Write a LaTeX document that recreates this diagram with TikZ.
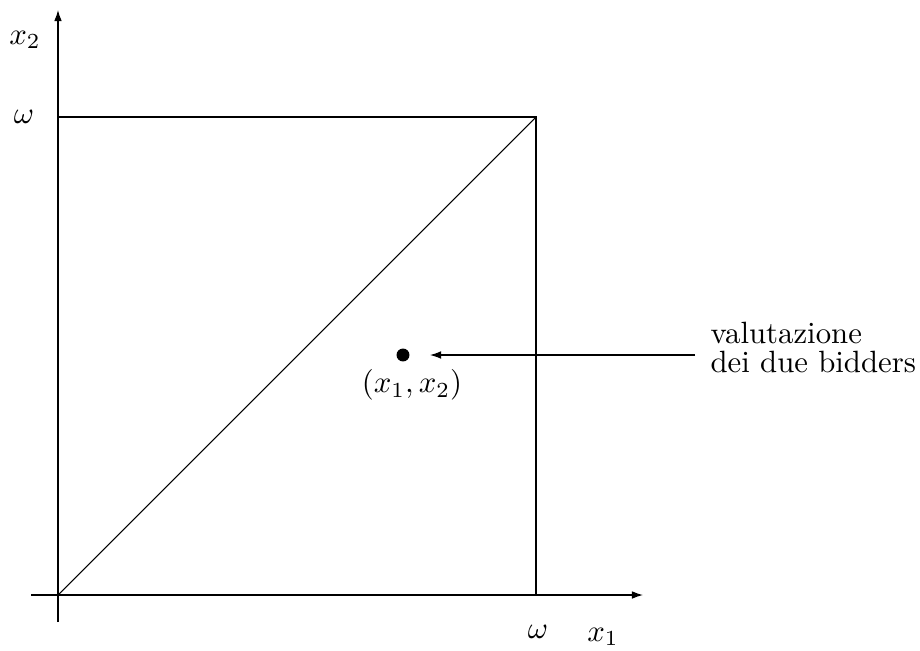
\documentclass[tikz,border=0pt]{standalone}
\usetikzlibrary{arrows.meta}
\begin{document}
\begin{tikzpicture}[x=0.325pt,y=-0.325pt,
  ln/.style={line width=0.35pt},
  tipstyle/.style={-{Latex[length=3.6pt,width=2.5pt]}},
  ax/.style={line width=0.4pt,tipstyle},
  lbl/.style={inner sep=0pt}]
\useasboundingbox (0,0) rectangle (920,650);
% axes
\coordinate (xs) at (31,595);
\coordinate (xe) at (643,595);
\coordinate (ys) at (58,622);
\coordinate (ye) at (58,10);
\draw[ax] (xs) -- (xe);
\draw[ax] (ys) -- (ye);
% square
\coordinate (O) at (58,595);
\coordinate (A) at (536,595);
\coordinate (B) at (536,117);
\coordinate (C) at (58,117);
\draw[ln] (C) -- (B) -- (A);
\draw[ln] (O) -- (B);
% labels
\node[lbl] (x2) at (25,40) {$x_2$};
\node[lbl] (wl) at (24,117) {$\omega$};
\node[lbl] (wb) at (538,632) {$\omega$};
\node[lbl] (x1) at (603,637) {$x_1$};
% point
\node[circle,fill,inner sep=0pt,minimum size=4.2pt] (pt) at (403,355) {};
\node[lbl] (ptl) at (412,385) {$(x_1,x_2)$};
% description
\node[lbl,anchor=base west] (v1) at (710,343) {valutazione};
\node[lbl,anchor=base west] (v2) at (710,372) {dei due bidders};
\coordinate (tail) at (695,355);
\coordinate (tip) at (430,355);
\draw[ln,tipstyle] (tail) -- (tip);
\end{tikzpicture}
\end{document}
